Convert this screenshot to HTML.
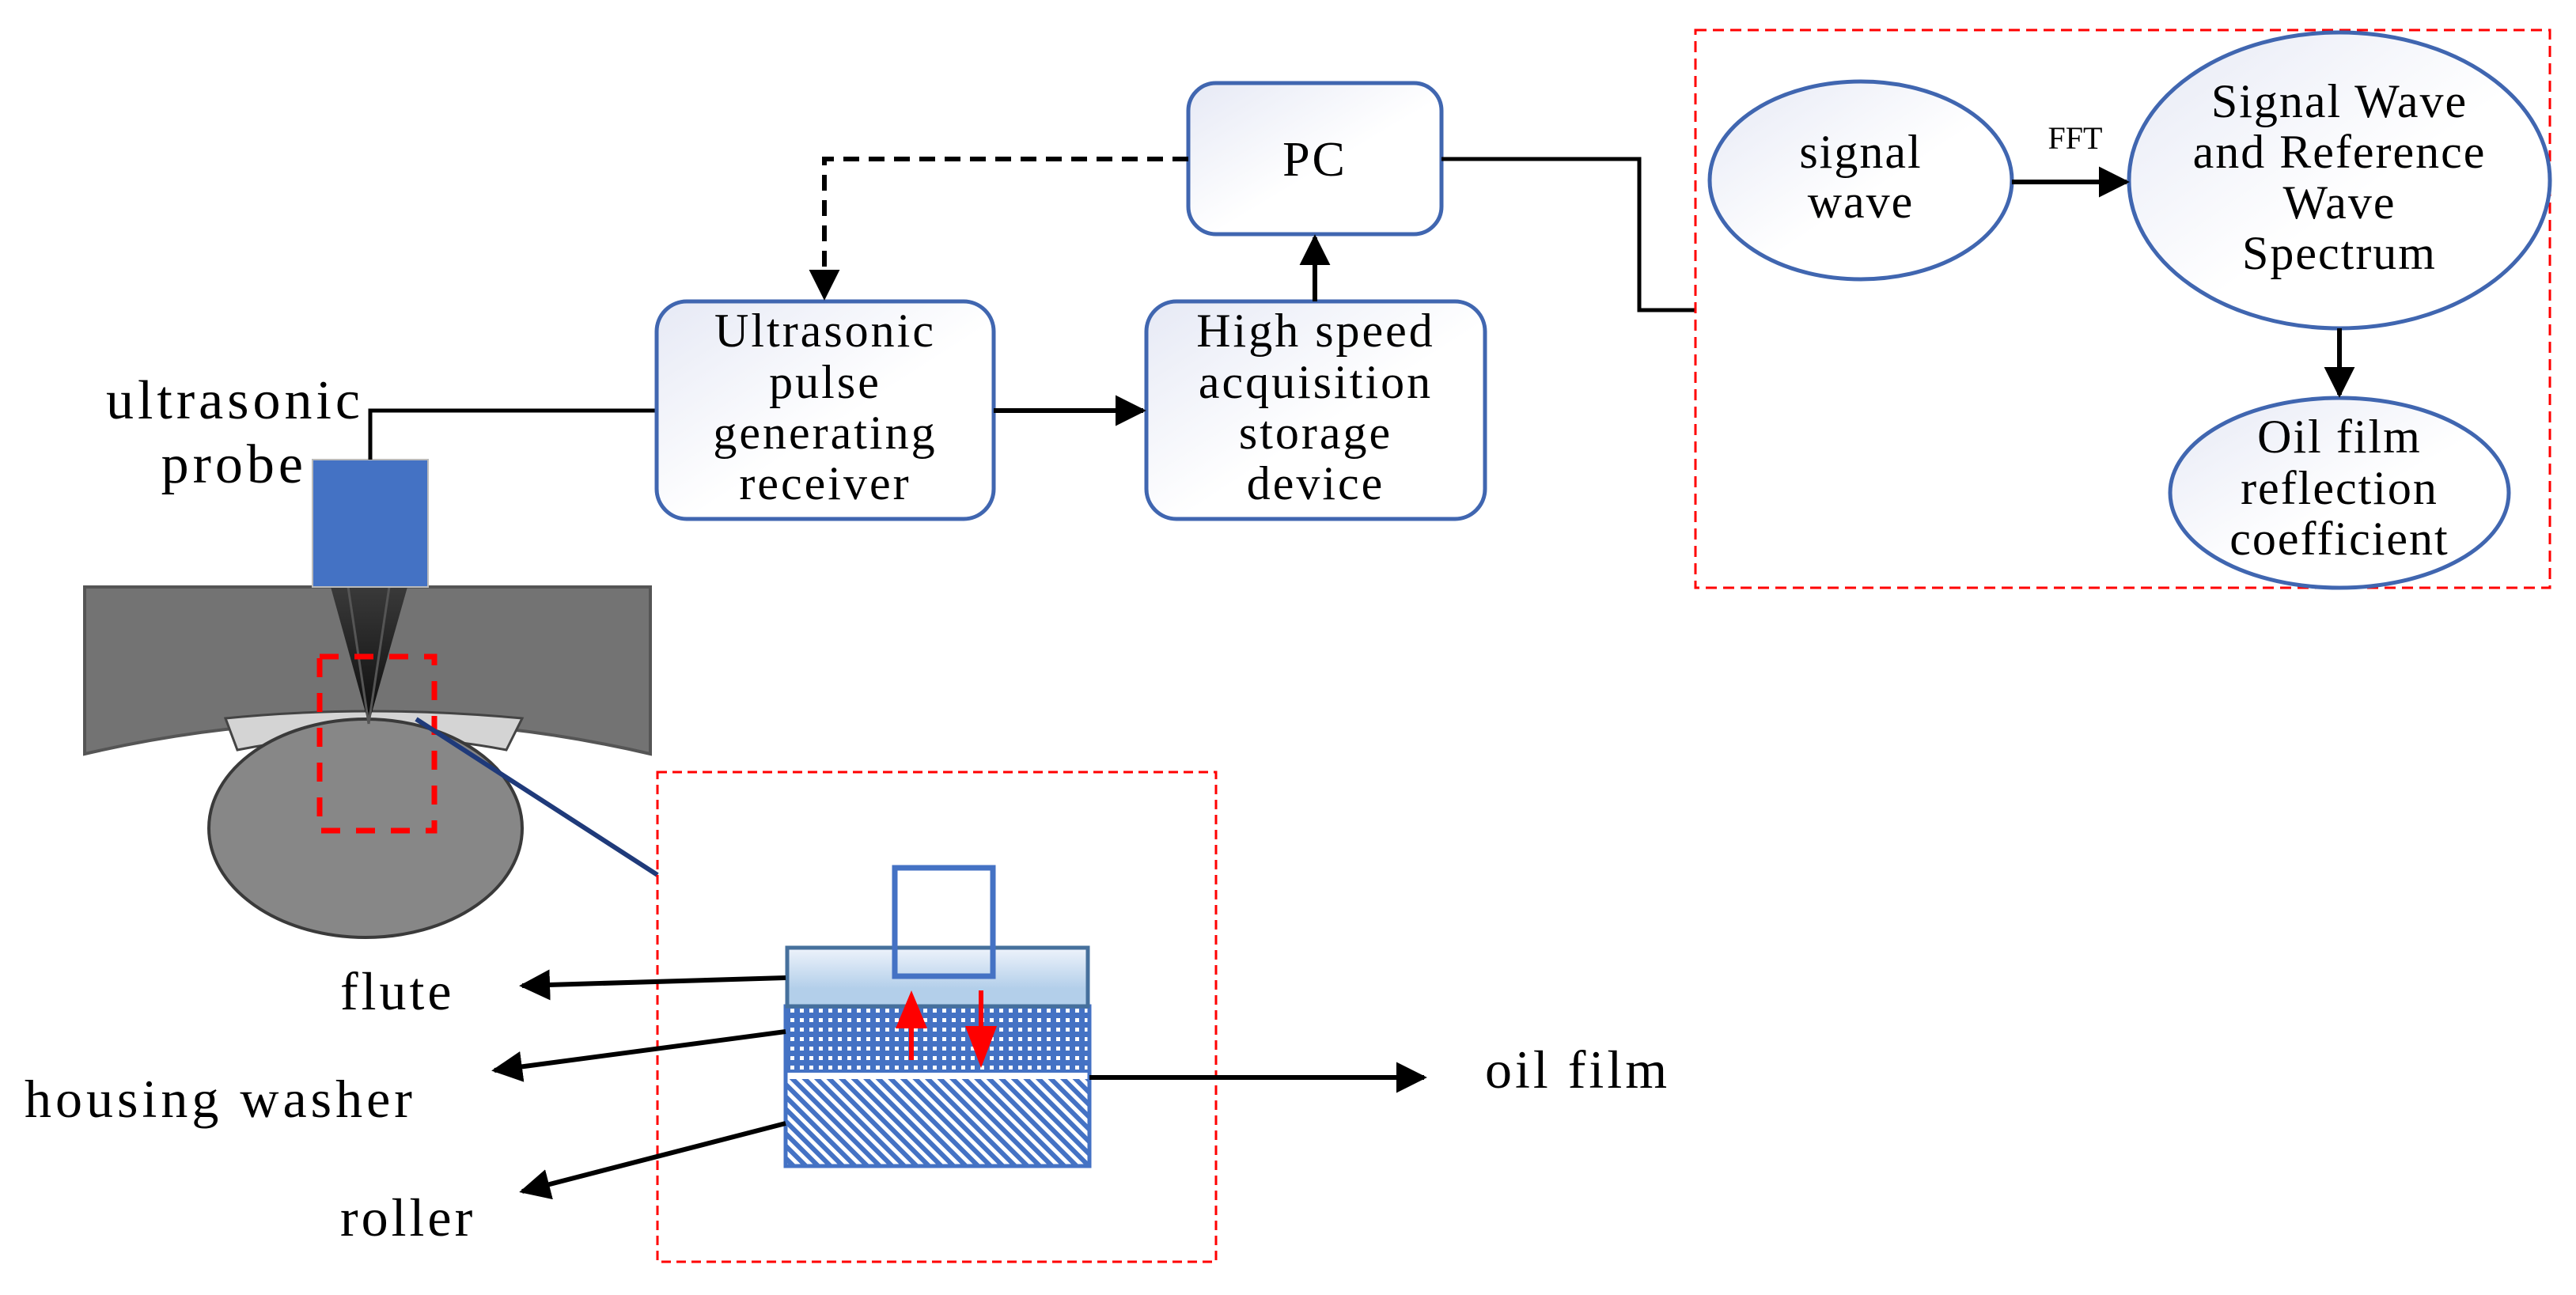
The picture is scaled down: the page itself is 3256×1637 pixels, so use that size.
<!DOCTYPE html>
<html><head><meta charset="utf-8"><style>
html,body{margin:0;padding:0;background:#fff;}
svg{display:block;}
text{font-family:"Liberation Serif",serif;fill:#000;}
</style></head><body>
<svg width="3256" height="1637" viewBox="0 0 3256 1637" xmlns="http://www.w3.org/2000/svg">
<defs>
<linearGradient id="nb" x1="0" y1="0" x2="1" y2="1">
<stop offset="0" stop-color="#e6e9f5"/><stop offset="0.55" stop-color="#ffffff"/><stop offset="1" stop-color="#ffffff"/>
</linearGradient>
<linearGradient id="top" x1="0" y1="0" x2="0" y2="1">
<stop offset="0" stop-color="#eef3fb"/><stop offset="0.7" stop-color="#b3cfea"/><stop offset="1" stop-color="#b3cfea"/>
</linearGradient>
<linearGradient id="beam" x1="0" y1="0" x2="0" y2="1">
<stop offset="0" stop-color="#333"/><stop offset="1" stop-color="#000"/>
</linearGradient>
<pattern id="dots" width="12" height="12" patternUnits="userSpaceOnUse">
<rect width="12" height="12" fill="#4472c4"/><rect x="3" y="3" width="5" height="5" fill="#fff"/>
</pattern>
<pattern id="hatch" width="11" height="11" patternUnits="userSpaceOnUse" patternTransform="rotate(-45)">
<rect width="11" height="11" fill="#4472c4"/><rect x="0" y="0" width="5" height="11" fill="#fff"/>
</pattern>
<marker id="ah" viewBox="0 0 10 10" refX="9" refY="5" markerWidth="6.5" markerHeight="6.5" orient="auto" markerUnits="strokeWidth">
<path d="M0,0 L10,5 L0,10 z" fill="#000"/>
</marker>
</defs>

<!-- bearing illustration -->
<path d="M107,742 L822,742 L822,953 Q465,870 107,953 Z" fill="#737373" stroke="#555" stroke-width="4"/>
<path d="M285,908 Q465,890 660,908 L640,948 Q465,915 300,948 Z" fill="#d4d4d4" stroke="#444" stroke-width="3"/>
<ellipse cx="462" cy="1047" rx="198" ry="138" fill="#878787" stroke="#3a3a3a" stroke-width="4"/>
<path d="M418,742 L515,742 L466,915 Z" fill="url(#beam)" opacity="0.9"/>
<path d="M440,742 L466,915 M492,742 L466,915" stroke="#555" stroke-width="3"/>
<rect x="404" y="830" width="145" height="220" fill="none" stroke="#ff0000" stroke-width="7" stroke-dasharray="24 20"/>
<line x1="526" y1="909" x2="831" y2="1106" stroke="#1f3a7a" stroke-width="6"/>
<rect x="395" y="581" width="146" height="161" fill="#4472c4" stroke="#bbb" stroke-width="2"/>
<polyline points="468,581 468,519 830,519" fill="none" stroke="#000" stroke-width="5"/>
<text x="460" y="529" font-size="70" text-anchor="end" letter-spacing="5">ultrasonic</text>
<text x="388" y="610" font-size="70" text-anchor="end" letter-spacing="5">probe</text>

<!-- zoom detail box -->
<rect x="831" y="976" width="706" height="619" fill="none" stroke="#ff0000" stroke-width="3" stroke-dasharray="12 7"/>
<rect x="993" y="1272" width="384" height="84" fill="url(#dots)"/>
<rect x="993" y="1356" width="384" height="8" fill="#fff"/>
<rect x="993" y="1364" width="384" height="110" fill="url(#hatch)"/>
<rect x="993" y="1272" width="384" height="202" fill="none" stroke="#4472c4" stroke-width="5"/>
<rect x="995" y="1198" width="380" height="74" fill="url(#top)" stroke="#46709c" stroke-width="5"/>
<rect x="1131" y="1097" width="124" height="137" fill="none" stroke="#4472c4" stroke-width="7"/>
<line x1="1152" y1="1340" x2="1152" y2="1295" stroke="#f00" stroke-width="6"/>
<path d="M1132,1300 L1172,1300 L1152,1252 Z" fill="#f00"/>
<line x1="1240" y1="1252" x2="1240" y2="1300" stroke="#f00" stroke-width="6"/>
<path d="M1220,1297 L1260,1297 L1240,1350 Z" fill="#f00"/>

<line x1="993" y1="1236" x2="660" y2="1246" stroke="#000" stroke-width="6" marker-end="url(#ah)"/>
<line x1="993" y1="1304" x2="625" y2="1353" stroke="#000" stroke-width="6" marker-end="url(#ah)"/>
<line x1="993" y1="1420" x2="660" y2="1506" stroke="#000" stroke-width="6" marker-end="url(#ah)"/>
<line x1="1377" y1="1362" x2="1800" y2="1362" stroke="#000" stroke-width="6" marker-end="url(#ah)"/>
<text x="430" y="1276" font-size="68" letter-spacing="4">flute</text>
<text x="31" y="1412" font-size="68" letter-spacing="5">housing washer</text>
<text x="430" y="1562" font-size="68" letter-spacing="4">roller</text>
<text x="1877" y="1375" font-size="68" letter-spacing="4">oil film</text>

<!-- flow boxes -->
<rect x="1502" y="105" width="320" height="191" rx="35" fill="url(#nb)" stroke="#4066b0" stroke-width="5"/>
<text x="1662" y="222" font-size="62" text-anchor="middle" letter-spacing="3">PC</text>
<rect x="830" y="381" width="426" height="275" rx="38" fill="url(#nb)" stroke="#4066b0" stroke-width="5"/>
<g font-size="60" text-anchor="middle" letter-spacing="3">
<text x="1043" y="438">Ultrasonic</text>
<text x="1043" y="503">pulse</text>
<text x="1043" y="567">generating</text>
<text x="1043" y="631">receiver</text>
</g>
<rect x="1449" y="381" width="428" height="275" rx="38" fill="url(#nb)" stroke="#4066b0" stroke-width="5"/>
<g font-size="60" text-anchor="middle" letter-spacing="3">
<text x="1663" y="438">High speed</text>
<text x="1663" y="503">acquisition</text>
<text x="1663" y="567">storage</text>
<text x="1663" y="631">device</text>
</g>

<line x1="1256" y1="519" x2="1445" y2="519" stroke="#000" stroke-width="6" marker-end="url(#ah)"/>
<line x1="1662" y1="381" x2="1662" y2="300" stroke="#000" stroke-width="6" marker-end="url(#ah)"/>
<polyline points="1502,201 1042,201 1042,376" fill="none" stroke="#000" stroke-width="6" stroke-dasharray="20 12" marker-end="url(#ah)"/>
<polyline points="1822,201 2072,201 2072,392 2143,392" fill="none" stroke="#000" stroke-width="5"/>

<!-- right panel -->
<rect x="2143" y="38" width="1080" height="705" fill="none" stroke="#ff0000" stroke-width="3" stroke-dasharray="14 8"/>
<ellipse cx="2352" cy="228" rx="191" ry="125" fill="url(#nb)" stroke="#4066b0" stroke-width="5"/>
<ellipse cx="2957" cy="228" rx="266" ry="187" fill="url(#nb)" stroke="#4066b0" stroke-width="5"/>
<ellipse cx="2957" cy="623" rx="214" ry="120" fill="url(#nb)" stroke="#4066b0" stroke-width="5"/>
<line x1="2543" y1="230" x2="2688" y2="230" stroke="#000" stroke-width="6" marker-end="url(#ah)"/>
<line x1="2957" y1="415" x2="2957" y2="499" stroke="#000" stroke-width="6" marker-end="url(#ah)"/>
<text x="2623" y="188" font-size="40" text-anchor="middle">FFT</text>
<g font-size="60" text-anchor="middle" letter-spacing="2">
<text x="2352" y="212">signal</text>
<text x="2352" y="275">wave</text>
<text x="2957" y="148">Signal Wave</text>
<text x="2957" y="212">and Reference</text>
<text x="2957" y="276">Wave</text>
<text x="2957" y="340">Spectrum</text>
<text x="2957" y="572">Oil film</text>
<text x="2957" y="637">reflection</text>
<text x="2957" y="701">coefficient</text>
</g>
</svg>
</body></html>
